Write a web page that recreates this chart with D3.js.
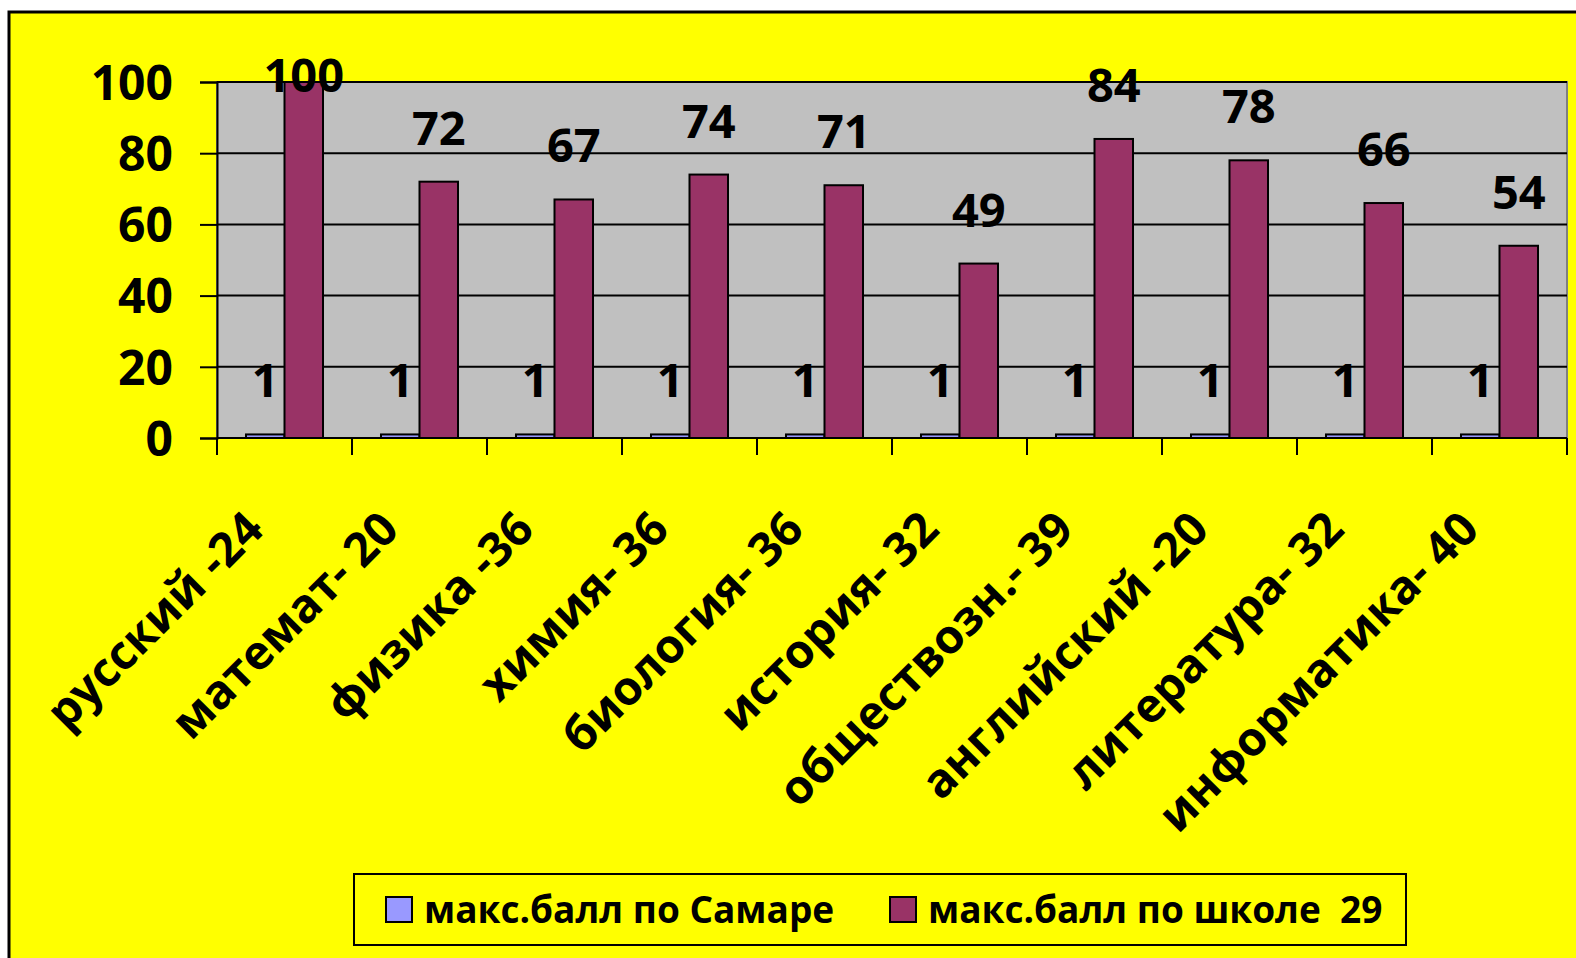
<!DOCTYPE html>
<html>
<head>
<meta charset="utf-8">
<script src="https://cdn.jsdelivr.net/npm/d3@7"></script>
<style>
  html, body { margin: 0; padding: 0; background: #fff; }
  svg { display: block; }
  text { font-family: "Open Sans", "Noto Sans", sans-serif; font-weight: 700; fill: #000; white-space: pre; }
</style>
</head>
<body>
<svg id="chart" width="1576" height="958"></svg>
<script>
// subjects with their passing thresholds
const categories = ['русский -24', 'математ- 20', 'физика -36', 'химия- 36', 'биология- 36',
  'история- 32', 'обществозн.- 39', 'английский -20', 'литература- 32', 'информатика- 40'];
const seriesNames = ['макс.балл по Самаре', 'макс.балл по школе  29'];
const samaraValues = [1, 1, 1, 1, 1, 1, 1, 1, 1, 1];
const schoolValues = [100, 72, 67, 74, 71, 49, 84, 78, 66, 54];
const yTicks = [0, 20, 40, 60, 80, 100];
const colors = ['#9999FF', '#993366'];

const svg = d3.select('#chart');

// outer chart frame
svg.append('rect')
  .attr('x', 9).attr('y', 12)
  .attr('width', 1590).attr('height', 960)
  .attr('fill', '#FFFF00')
  .attr('stroke', '#000').attr('stroke-width', 3);

const plot = { left: 217, right: 1567, top: 82, bottom: 438 };

const x0 = d3.scaleBand().domain(categories).range([plot.left, plot.right]).padding(0);
const x1 = d3.scaleBand().domain(d3.range(seriesNames.length))
  .range([0, x0.bandwidth()]).paddingInner(0).paddingOuter(0.753);
const y = d3.scaleLinear().domain([0, 100]).range([plot.bottom, plot.top]);

// plot area
svg.append('rect')
  .attr('x', plot.left).attr('y', plot.top)
  .attr('width', plot.right - plot.left).attr('height', plot.bottom - plot.top)
  .attr('fill', '#C0C0C0')
  .attr('stroke', '#808080').attr('stroke-width', 2);

// gridlines
svg.append('g').selectAll('line')
  .data(yTicks.filter(d => d > 0))
  .enter().append('line')
  .attr('x1', plot.left).attr('x2', plot.right)
  .attr('y1', d => y(d)).attr('y2', d => y(d))
  .attr('stroke', '#000').attr('stroke-width', 2);

// y axis
const yAxis = svg.append('g')
  .attr('transform', `translate(${plot.left},0)`)
  .call(d3.axisLeft(y).tickValues(yTicks).tickSize(17).tickPadding(27));
yAxis.select('.domain').attr('stroke', '#000').attr('stroke-width', 2);
yAxis.selectAll('.tick line').attr('stroke', '#000').attr('stroke-width', 2);
yAxis.selectAll('.tick text')
  .style('font-size', '48px')
  .attr('dy', '0.36em');

// bars
const data = categories.map((c, i) => ({ cat: c, vals: [samaraValues[i], schoolValues[i]] }));

const groups = svg.append('g').selectAll('g')
  .data(data)
  .enter().append('g')
  .attr('transform', d => `translate(${x0(d.cat)},0)`);

groups.selectAll('rect')
  .data(d => d.vals.map((v, k) => ({ v, k })))
  .enter().append('rect')
  .attr('x', d => x1(d.k))
  .attr('y', d => y(d.v))
  .attr('width', x1.bandwidth())
  .attr('height', d => y(0) - y(d.v))
  .attr('fill', d => colors[d.k])
  .attr('stroke', '#000').attr('stroke-width', 2);

// value labels
groups.selectAll('text')
  .data(d => d.vals.map((v, k) => ({ v, k })))
  .enter().append('text')
  .attr('x', d => x1(d.k) + x1.bandwidth() / 2)
  .attr('y', d => Math.max(y(d.v) - 37, 92))
  .attr('text-anchor', 'middle')
  .style('font-size', '47px')
  .text(d => d.v);

// x axis
const xAxis = svg.append('g')
  .attr('transform', `translate(0,${plot.bottom})`);
xAxis.append('line')
  .attr('x1', plot.left).attr('x2', plot.right)
  .attr('stroke', '#000').attr('stroke-width', 2);
xAxis.selectAll('.tk')
  .data(categories.map(c => x0(c)).concat([plot.right]))
  .enter().append('line')
  .attr('x1', d => d).attr('x2', d => d)
  .attr('y1', 0).attr('y2', 17)
  .attr('stroke', '#000').attr('stroke-width', 2);

xAxis.selectAll('.xl')
  .data(categories)
  .enter().append('text')
  .attr('transform', d => `translate(${x0(d) + x0.bandwidth() / 2 - 30},82) rotate(-45)`)
  .attr('text-anchor', 'end')
  .attr('dy', '0.35em')
  .style('font-size', '47px')
  .text(d => d);

// legend
const legend = svg.append('g');
legend.append('rect')
  .attr('x', 354).attr('y', 874)
  .attr('width', 1052).attr('height', 71)
  .attr('fill', '#FFFF00')
  .attr('stroke', '#000').attr('stroke-width', 2);
const legendX = [386, 890];
seriesNames.forEach((name, k) => {
  legend.append('rect')
    .attr('x', legendX[k]).attr('y', 897)
    .attr('width', 26).attr('height', 25)
    .attr('fill', colors[k])
    .attr('stroke', '#000').attr('stroke-width', 2);
  legend.append('text')
    .attr('x', legendX[k] + 38).attr('y', 910)
    .attr('dy', '0.36em')
    .style('font-size', '37px')
    .text(name);
});
</script>
</body>
</html>
